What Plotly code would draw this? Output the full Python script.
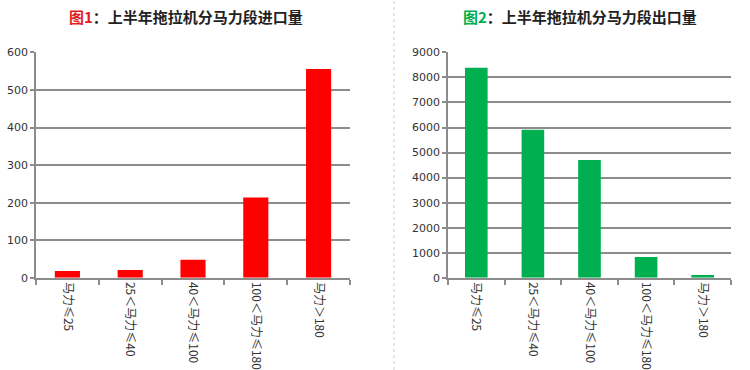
import plotly.graph_objects as go

categories = ["马力≤25", "25＜马力≤40", "40＜马力≤100", "100＜马力≤180", "马力＞180"]
import_values = [18, 21, 48, 214, 556]
export_values = [8390, 5915, 4707, 830, 110]
title1_prefix = "图1"
title2_prefix = "图2"
title_text = "：上半年拖拉机分马力段"
title1_suffix = "进口量"
title2_suffix = "出口量"

W, H = 750, 370
FONT = "DejaVu Sans, Noto Sans CJK SC, sans-serif"
GRID = "#8c8c8c"

fig = go.Figure()
fig.add_trace(go.Bar(x=categories, y=import_values, marker_color="#ff0000",
                     marker_line_width=0, xaxis="x", yaxis="y", width=0.4))
fig.add_trace(go.Bar(x=categories, y=export_values, marker_color="#00b050",
                     marker_line_width=0, xaxis="x2", yaxis="y2", width=0.4))

ydom = [92.2 / H, 317.6 / H]
common_x = dict(type="category", tickangle=90, showgrid=False, showline=True,
                linecolor=GRID, linewidth=1.5, ticks="outside", ticklen=5,
                tickcolor=GRID, tickwidth=1.5, tickson="boundaries",
                tickfont=dict(family="Noto Sans CJK SC, DejaVu Sans", size=12, color="#333"),
                automargin=False, fixedrange=True)
common_y = dict(showgrid=True, gridcolor=GRID, gridwidth=1.5, showline=True,
                linecolor=GRID, linewidth=1.5, ticks="outside", ticklen=4,
                tickcolor=GRID, tickwidth=1.5, zeroline=False, automargin=False,
                tickfont=dict(family=FONT, size=11, color="#333"), domain=ydom)

fig.update_layout(
    width=W, height=H, margin=dict(l=0, r=0, t=0, b=0),
    paper_bgcolor="white", plot_bgcolor="white", showlegend=False,
    bargap=0.6,
    xaxis=dict(domain=[36 / W, 350 / W], anchor="y", **common_x),
    yaxis=dict(range=[0, 600], dtick=100, anchor="x", **common_y),
    xaxis2=dict(domain=[448 / W, 731 / W], anchor="y2", **common_x),
    yaxis2=dict(range=[0, 9000], dtick=1000, anchor="x2", **common_y),
)

fig.add_annotation(
    x=186 / W, y=1 - 17 / H, xref="paper", yref="paper", showarrow=False,
    text=f"<b><span style='color:#e31c23'>{title1_prefix}</span>{title_text}{title1_suffix}</b>",
    font=dict(family="Noto Sans CJK SC", size=15, color="#222"),
    xanchor="center", yanchor="middle")
fig.add_annotation(
    x=580 / W, y=1 - 17 / H, xref="paper", yref="paper", showarrow=False,
    text=f"<b><span style='color:#00b050'>{title2_prefix}</span>{title_text}{title2_suffix}</b>",
    font=dict(family="Noto Sans CJK SC", size=15, color="#222"),
    xanchor="center", yanchor="middle")

fig.add_shape(type="line", xref="paper", yref="paper", x0=394 / W, x1=394 / W,
              y0=0, y1=1, line=dict(color="#d0d0d0", width=1, dash="dot"))

fig.write_html("out.html")
